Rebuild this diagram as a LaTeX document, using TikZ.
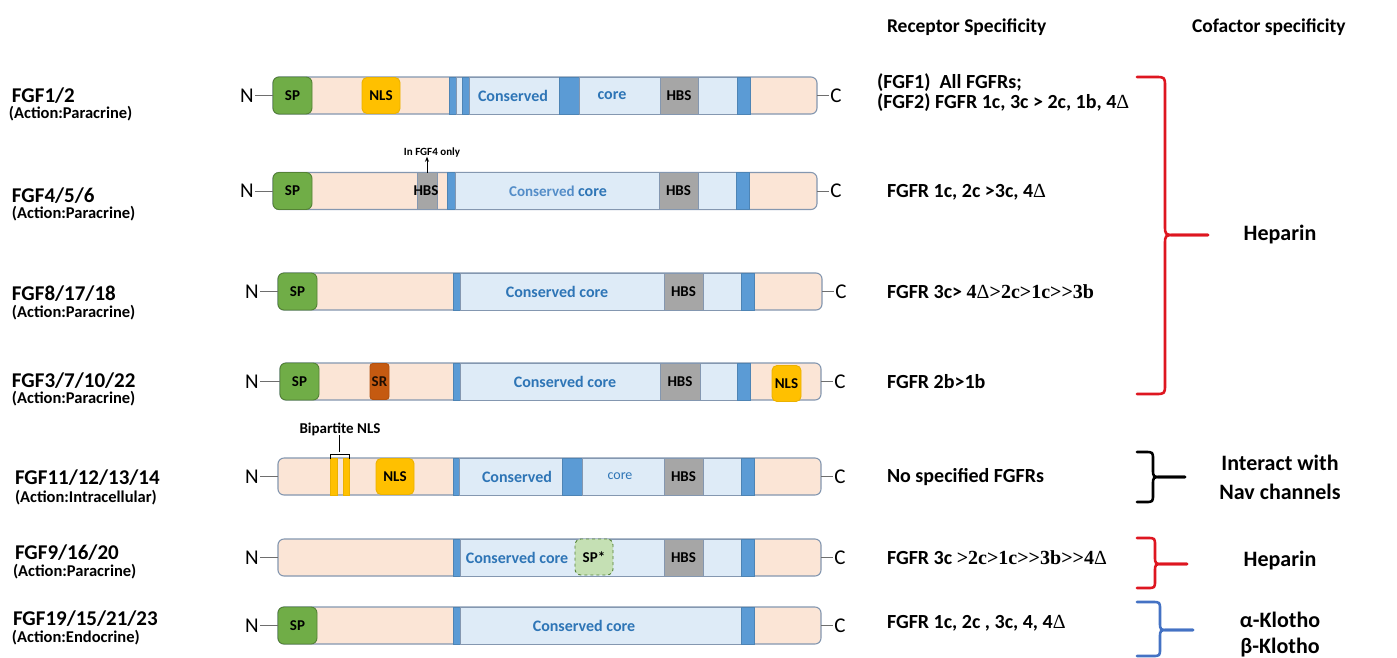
\documentclass[tikz,border=0pt]{standalone}
\usepackage{fontspec}
\setmainfont{Carlito}
\newfontfamily\serifb{Liberation Serif}
\usetikzlibrary{arrows.meta}

\definecolor{tanfill}{RGB}{251,229,214}
\definecolor{lblue}{RGB}{222,235,247}
\definecolor{sblue}{RGB}{91,155,213}
\definecolor{barline}{RGB}{132,151,176}
\definecolor{spgreen}{RGB}{112,173,71}
\definecolor{spedge}{RGB}{84,130,53}
\definecolor{hbsgray}{RGB}{166,166,166}
\definecolor{nlsyellow}{RGB}{255,192,0}
\definecolor{srorange}{RGB}{197,90,17}
\definecolor{coretext}{RGB}{46,117,182}
\definecolor{coretextlight}{RGB}{84,141,200}
\definecolor{spstar}{RGB}{197,224,180}
\definecolor{bracered}{RGB}{222,22,32}
\definecolor{braceblue}{RGB}{68,114,196}
\definecolor{tether}{RGB}{110,110,110}

\newcommand\fsz[1]{\fontsize{#1}{#1}\selectfont}
% \seg[style]{name}{x left}{x right}{y centre}{text}
\newcommand\seg[6][]{\node[#1, minimum width={(#4-#3)*1pt}] (#2) at ({(#3+#4)/2},#5) {#6};}
% \fgfbrace{colour}{x0}{xv}{xtip}{top}{mid}{bottom}{radius}
\newcommand\fgfbrace[8]{%
  \draw[bracestroke,#1] (#2,#5) -- ({#3-#8},#5) .. controls (#3,#5) .. (#3,{#5+#8})
     -- (#3,{#6-#8}) .. controls (#3,#6) .. ({#3+#8},#6) -- (#4,#6);
  \draw[bracestroke,#1] (#4,#6) -- ({#3+#8},#6) .. controls (#3,#6) .. (#3,{#6+#8})
     -- (#3,{#7-#8}) .. controls (#3,#7) .. ({#3-#8},#7) -- (#2,#7);}
\newcommand\dlt{{\serifb\mdseries Δ}}

\tikzset{
  every node/.style={inner sep=0pt, outer sep=0pt},
  bar/.style={draw=barline, line width=1.1pt, fill=tanfill, rounded corners=6pt, minimum height=37pt},
  seg/.style={draw=barline, line width=0.9pt, minimum height=37pt, font=\fsz{15}\bfseries},
  core/.style={seg, fill=lblue},
  stripe/.style={seg, fill=sblue, draw=sblue!85!black},
  hbs/.style={seg, fill=hbsgray, draw=barline},
  sp/.style={seg, fill=spgreen, draw=spedge, rounded corners=6pt},
  nls/.style={seg, fill=nlsyellow, draw=nlsyellow!92!black, rounded corners=5pt, minimum height=36pt},
  srbox/.style={seg, fill=srorange, draw=srorange!90!black, rounded corners=3pt, minimum height=36pt},
  spstarbox/.style={seg, fill=spstar, draw=spedge, dashed, rounded corners=6pt, minimum height=36pt},
  coretxt/.style={text=coretext, font=\fsz{16}\bfseries},
  boxtxt/.style={font=\fsz{15}\bfseries},
  endlbl/.style={font=\fsz{21}, inner sep=1.5pt},
  tetherline/.style={draw=tether, line width=0.8pt},
  famname/.style={anchor=west, font=\fsz{21}\bfseries},
  action/.style={anchor=west, font=\fsz{16.5}\bfseries},
  spec/.style={anchor=west, font=\fsz{20}\bfseries},
  header/.style={anchor=west, font=\fsz{19.5}\bfseries},
  cofactor/.style={font=\fsz{22}\bfseries},
  bracestroke/.style={line width=2.6pt, line cap=round, line join=round},
}

\begin{document}
\begin{tikzpicture}[x=1pt,y=-1pt]
\useasboundingbox (0,0) rectangle (1397,657);
\fill[white] (0,0) rectangle (1397,657);

% ---------- column headers ----------
\node[header] (hrec) at (887,27) {Receptor Specificity};
\node[header] (hcof) at (1192,27) {Cofactor specificity};

% ---------- family names ----------
\node[famname] (f1) at (12,96) {FGF1/2};
\node[action] (a1) at (9,114) {(Action:Paracrine)};
\node[famname] (f2) at (12,196) {FGF4/5/6};
\node[action] (a2) at (12,214) {(Action:Paracrine)};
\node[famname] (f3) at (12,294) {FGF8/17/18};
\node[action] (a3) at (12,313) {(Action:Paracrine)};
\node[famname] (f4) at (12,381) {FGF3/7/10/22};
\node[action] (a4) at (12,399) {(Action:Paracrine)};
\node[famname] (f5) at (15,478) {FGF11/12/13/14};
\node[action] (a5) at (15,498) {(Action:Intracellular)};
\node[famname] (f6) at (15,553) {FGF9/16/20};
\node[action] (a6) at (13,572) {(Action:Paracrine)};
\node[famname] (f7) at (13,619) {FGF19/15/21/23};
\node[action] (a7) at (12,638) {(Action:Endocrine)};

% ---------- row 1 : FGF1/2 ----------
\seg[bar]{bar1}{273}{817}{95.5}{}
\seg[sp]{r1sp}{273}{312}{95.5}{SP}
\seg[nls]{r1nls}{362}{400}{95.5}{NLS}
\seg[stripe]{r1s1}{449}{456}{95.5}{}
\seg[core]{r1l0}{456}{462}{95.5}{}
\seg[stripe]{r1s2}{462}{469}{95.5}{}
\seg[core]{r1l1}{469}{559}{95.5}{}
\seg[stripe]{r1s3}{559}{579}{95.5}{}
\seg[core]{r1l2}{579}{660}{95.5}{}
\seg[hbs]{r1hbs}{660}{698}{95.5}{HBS}
\seg[core]{r1l3}{698}{737}{95.5}{}
\seg[stripe]{r1s4}{737}{750}{95.5}{}
\node[coretxt] (r1t1) at (513,95.5) {Conserved};
\node[coretxt] (r1t2) at (612,95.5) {core};
\node[endlbl] (n1) at (247,95.5) {N};
\node[endlbl] (c1) at (836,95.5) {C};
\draw[tetherline] (n1.east) -- (bar1.west);
\draw[tetherline] (bar1.east) -- (c1.west);

% ---------- row 2 : FGF4/5/6 ----------
\seg[bar]{bar2}{273}{817}{191}{}
\seg[sp]{r2sp}{273}{312}{191}{SP}
\seg[hbs]{r2hbsA}{417}{437}{191}{}
\node[boxtxt] (r2hbsAt) at (426,191) {HBS};
\seg[stripe]{r2s1}{447}{455}{191}{}
\seg[core]{r2l1}{455}{659}{191}{}
\seg[hbs]{r2hbs}{659}{698}{191}{HBS}
\seg[core]{r2l2}{698}{736}{191}{}
\seg[stripe]{r2s2}{736}{749}{191}{}
\node[font=\fsz{15}\bfseries] (r2t) at (558,191) {\textcolor{coretextlight}{Conserved} \textcolor{coretext}{\fsz{16}core}};
\node[font=\fsz{11}\bfseries] (only4) at (432,152) {In FGF4 only};
\draw[-{Stealth[length=5pt,width=4pt]}, line width=0.8pt] (r2hbsA.north) -- (r2hbsA.north |- only4.south);
\node[endlbl] (n2) at (247,191) {N};
\node[endlbl] (c2) at (836,191) {C};
\draw[tetherline] (n2.east) -- (bar2.west);
\draw[tetherline] (bar2.east) -- (c2.west);

% ---------- row 3 : FGF8/17/18 ----------
\seg[bar]{bar3}{278}{822}{291.5}{}
\seg[sp]{r3sp}{278}{317}{291.5}{SP}
\seg[stripe]{r3s1}{453}{460}{291.5}{}
\seg[core]{r3l1}{460}{664}{291.5}{}
\seg[hbs]{r3hbs}{664}{703}{291.5}{HBS}
\seg[core]{r3l2}{703}{741}{291.5}{}
\seg[stripe]{r3s2}{741}{754}{291.5}{}
\node[coretxt] (r3t) at (557,291.5) {Conserved core};
\node[endlbl] (n3) at (252,291.5) {N};
\node[endlbl] (c3) at (841,291.5) {C};
\draw[tetherline] (n3.east) -- (bar3.west);
\draw[tetherline] (bar3.east) -- (c3.west);

% ---------- row 4 : FGF3/7/10/22 ----------
\seg[bar]{bar4}{280}{821}{381.5}{}
\seg[sp]{r4sp}{280}{319}{381.5}{SP}
\seg[srbox]{r4sr}{370}{389}{381.5}{}
\node[boxtxt, text=black!85!srorange] (r4srt) at (379.5,381.5) {SR};
\seg[stripe]{r4s1}{453}{460}{381.5}{}
\seg[core]{r4l1}{460}{660}{381.5}{}
\seg[hbs]{r4hbs}{660}{700}{381.5}{HBS}
\seg[core]{r4l2}{700}{737}{381.5}{}
\seg[stripe]{r4s2}{737}{750}{381.5}{}
\seg[nls]{r4nls}{772}{801}{383.5}{NLS}
\node[coretxt] (r4t) at (565,381.5) {Conserved core};
\node[endlbl] (n4) at (252,381.5) {N};
\node[endlbl] (c4) at (840,381.5) {C};
\draw[tetherline] (n4.east) -- (bar4.west);
\draw[tetherline] (bar4.east) -- (c4.west);

% ---------- row 5 : FGF11/12/13/14 ----------
\seg[bar]{bar5}{278}{821}{476.5}{}
\seg[nls, rounded corners=0pt, minimum height=37pt]{r5b1}{330}{337}{476.5}{}
\seg[nls, rounded corners=0pt, minimum height=37pt]{r5b2}{343}{349}{476.5}{}
\seg[nls]{r5nls}{376}{414}{476.5}{NLS}
\seg[stripe]{r5s1}{453}{459}{476.5}{}
\seg[core]{r5l1}{459}{562}{476.5}{}
\seg[stripe]{r5s2}{562}{582}{476.5}{}
\seg[core]{r5l2}{582}{664}{476.5}{}
\seg[hbs]{r5hbs}{664}{703}{476.5}{HBS}
\seg[core]{r5l3}{703}{741}{476.5}{}
\seg[stripe]{r5s3}{741}{754}{476.5}{}
\node[coretxt] (r5t1) at (517,476.5) {Conserved};
\node[text=coretext, font=\fsz{14}] (r5t2) at (620,476.5) {core};
\node[font=\fsz{15}\bfseries] (bip) at (340,429) {Bipartite NLS};
\coordinate (bipmid) at (339,452);
\draw[line width=0.8pt] ([yshift=-1pt]r5b1.north west) -- ([yshift=4pt]r5b1.north west)
   -- ([yshift=4pt]r5b2.north east) -- ([yshift=-1pt]r5b2.north east);
\draw[line width=0.8pt] (bipmid) -- (bipmid |- bip.south);
\node[endlbl] (n5) at (252,476.5) {N};
\node[endlbl] (c5) at (840,476.5) {C};
\draw[tetherline] (n5.east) -- (bar5.west);
\draw[tetherline] (bar5.east) -- (c5.west);

% ---------- row 6 : FGF9/16/20 ----------
\seg[bar]{bar6}{278}{821}{557.5}{}
\seg[stripe]{r6s1}{453}{460}{557.5}{}
\seg[core]{r6l1}{460}{664}{557.5}{}
\seg[hbs]{r6hbs}{664}{703}{557.5}{HBS}
\seg[core]{r6l2}{703}{741}{557.5}{}
\seg[stripe]{r6s2}{741}{754}{557.5}{}
\node[coretxt] (r6t) at (517,557.5) {Conserved core};
\seg[spstarbox]{r6sp}{575}{613}{557}{SP*}
\node[endlbl] (n6) at (252,557.5) {N};
\node[endlbl] (c6) at (840,557.5) {C};
\draw[tetherline] (n6.east) -- (bar6.west);
\draw[tetherline] (bar6.east) -- (c6.west);

% ---------- row 7 : FGF19/15/21/23 ----------
\seg[bar]{bar7}{278}{821}{625.5}{}
\seg[sp]{r7sp}{278}{317}{625.5}{SP}
\seg[stripe]{r7s1}{453}{460}{625.5}{}
\seg[core]{r7l1}{460}{741}{625.5}{}
\seg[stripe]{r7s2}{741}{754}{625.5}{}
\node[coretxt] (r7t) at (584,625.5) {Conserved core};
\node[endlbl] (n7) at (252,625.5) {N};
\node[endlbl] (c7) at (840,625.5) {C};
\draw[tetherline] (n7.east) -- (bar7.west);
\draw[tetherline] (bar7.east) -- (c7.west);

% ---------- receptor specificity ----------
\node[spec] (s1a) at (877,83) {(FGF1)\ \ All FGFRs;};
\node[spec] (s1b) at (877,103) {(FGF2) FGFR 1c, 3c > 2c, 1b, 4\dlt};
\node[spec] (s2) at (887,192) {FGFR 1c, 2c >3c, 4\dlt};
\node[spec] (s3) at (887,292) {FGFR 3c> {\serifb\bfseries 4}\dlt{\serifb\bfseries >2c>1c>>3b}};
\node[spec] (s4) at (887,382) {FGFR 2b>1b};
\node[spec] (s5) at (887,477) {No specified FGFRs};
\node[spec] (s6) at (887,558) {FGFR 3c {\serifb\bfseries >2c>1c>>3b>>4}\dlt};
\node[spec] (s7) at (887,623) {FGFR 1c, 2c , 3c, 4, 4\dlt};

% ---------- cofactor braces ----------
\fgfbrace{bracered}{1137}{1165}{1208}{77}{235}{394}{10}
\fgfbrace{black}{1137}{1153}{1185}{452}{477}{502}{8}
\fgfbrace{bracered}{1137}{1155}{1187}{538}{564}{588}{8}
\fgfbrace{braceblue}{1137}{1160}{1193}{602}{630}{656}{8}

\node[cofactor] (k1) at (1280,235) {Heparin};
\node[cofactor] (k2a) at (1280,463) {Interact with};
\node[cofactor] (k2b) at (1280,492) {Nav channels};
\node[cofactor] (k3) at (1280,560) {Heparin};
\node[cofactor] (k4a) at (1280,620) {α-Klotho};
\node[cofactor] (k4b) at (1280,648) {β-Klotho};
\end{tikzpicture}
\end{document}
